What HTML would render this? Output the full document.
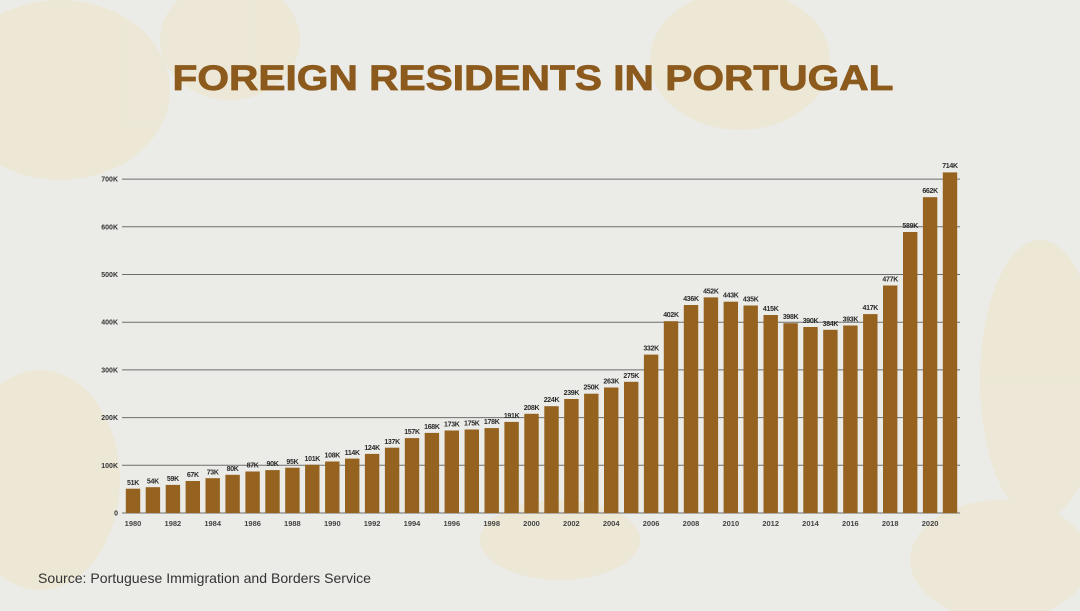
<!DOCTYPE html>
<html><head><meta charset="utf-8"><style>
body{margin:0;width:1080px;height:611px;overflow:hidden;background:#ebebe8;}
svg{display:block}
</style></head><body>
<svg width="1080" height="611" viewBox="0 0 1080 611" xmlns="http://www.w3.org/2000/svg" font-family="Liberation Sans, sans-serif">
<rect width="1080" height="611" fill="#ebebe8"/>
<g fill="#efe4c2" opacity="0.45">
<ellipse cx="60" cy="90" rx="110" ry="90"/>
<ellipse cx="230" cy="40" rx="70" ry="60"/>
<ellipse cx="40" cy="480" rx="80" ry="110"/>
<ellipse cx="740" cy="60" rx="90" ry="70"/>
<ellipse cx="1040" cy="380" rx="60" ry="140"/>
<ellipse cx="1000" cy="560" rx="90" ry="60"/>
<ellipse cx="560" cy="540" rx="80" ry="40"/>
</g>
<text x="533" y="90" text-anchor="middle" font-size="35" font-weight="bold" fill="#8b5a1c" stroke="#8b5a1c" stroke-width="0.8" textLength="721" lengthAdjust="spacingAndGlyphs">FOREIGN RESIDENTS IN PORTUGAL</text>
<g stroke="#6e6e6e" stroke-width="1">
<line x1="122" y1="513" x2="960" y2="513"/>
<line x1="122" y1="465.3" x2="960" y2="465.3"/>
<line x1="122" y1="417.6" x2="960" y2="417.6"/>
<line x1="122" y1="369.9" x2="960" y2="369.9"/>
<line x1="122" y1="322.2" x2="960" y2="322.2"/>
<line x1="122" y1="274.5" x2="960" y2="274.5"/>
<line x1="122" y1="226.8" x2="960" y2="226.8"/>
<line x1="122" y1="179.1" x2="960" y2="179.1"/>
</g>
<g font-size="7" font-weight="bold" fill="#333" text-anchor="end">
<text x="118" y="515.5">0</text>
<text x="118" y="467.8">100K</text>
<text x="118" y="420.1">200K</text>
<text x="118" y="372.4">300K</text>
<text x="118" y="324.7">400K</text>
<text x="118" y="277">500K</text>
<text x="118" y="229.3">600K</text>
<text x="118" y="181.6">700K</text>
</g>
<g fill="#95621f">
<rect x="125.8" y="488.7" width="14.4" height="24.3"/>
<rect x="145.7" y="487.2" width="14.4" height="25.8"/>
<rect x="165.7" y="484.9" width="14.4" height="28.1"/>
<rect x="185.6" y="481.0" width="14.4" height="32.0"/>
<rect x="205.5" y="478.2" width="14.4" height="34.8"/>
<rect x="225.4" y="474.8" width="14.4" height="38.2"/>
<rect x="245.4" y="471.5" width="14.4" height="41.5"/>
<rect x="265.3" y="470.1" width="14.4" height="42.9"/>
<rect x="285.2" y="467.7" width="14.4" height="45.3"/>
<rect x="305.1" y="464.8" width="14.4" height="48.2"/>
<rect x="325.1" y="461.5" width="14.4" height="51.5"/>
<rect x="345.0" y="458.6" width="14.4" height="54.4"/>
<rect x="364.9" y="453.9" width="14.4" height="59.1"/>
<rect x="384.9" y="447.7" width="14.4" height="65.3"/>
<rect x="404.8" y="438.1" width="14.4" height="74.9"/>
<rect x="424.7" y="432.9" width="14.4" height="80.1"/>
<rect x="444.6" y="430.5" width="14.4" height="82.5"/>
<rect x="464.6" y="429.5" width="14.4" height="83.5"/>
<rect x="484.5" y="428.1" width="14.4" height="84.9"/>
<rect x="504.4" y="421.9" width="14.4" height="91.1"/>
<rect x="524.3" y="413.8" width="14.4" height="99.2"/>
<rect x="544.3" y="406.2" width="14.4" height="106.8"/>
<rect x="564.2" y="399.0" width="14.4" height="114.0"/>
<rect x="584.1" y="393.7" width="14.4" height="119.3"/>
<rect x="604.0" y="387.5" width="14.4" height="125.5"/>
<rect x="624.0" y="381.8" width="14.4" height="131.2"/>
<rect x="643.9" y="354.6" width="14.4" height="158.4"/>
<rect x="663.8" y="321.2" width="14.4" height="191.8"/>
<rect x="683.8" y="305.0" width="14.4" height="208.0"/>
<rect x="703.7" y="297.4" width="14.4" height="215.6"/>
<rect x="723.6" y="301.7" width="14.4" height="211.3"/>
<rect x="743.5" y="305.5" width="14.4" height="207.5"/>
<rect x="763.5" y="315.0" width="14.4" height="198.0"/>
<rect x="783.4" y="323.2" width="14.4" height="189.8"/>
<rect x="803.3" y="327.0" width="14.4" height="186.0"/>
<rect x="823.2" y="329.8" width="14.4" height="183.2"/>
<rect x="843.2" y="325.5" width="14.4" height="187.5"/>
<rect x="863.1" y="314.1" width="14.4" height="198.9"/>
<rect x="883.0" y="285.5" width="14.4" height="227.5"/>
<rect x="903.0" y="232.0" width="14.4" height="281.0"/>
<rect x="922.9" y="197.2" width="14.4" height="315.8"/>
<rect x="942.8" y="172.4" width="14.4" height="340.6"/>
</g>
<g font-size="7" font-weight="bold" fill="#2a2a2a" text-anchor="middle" letter-spacing="-0.3">
<text x="133.0" y="485">51K</text>
<text x="152.9" y="483.5">54K</text>
<text x="172.9" y="481">59K</text>
<text x="192.8" y="477">67K</text>
<text x="212.7" y="474.5">73K</text>
<text x="232.6" y="471">80K</text>
<text x="252.6" y="467.5">87K</text>
<text x="272.5" y="466">90K</text>
<text x="292.4" y="464">95K</text>
<text x="312.3" y="461">101K</text>
<text x="332.3" y="457.5">108K</text>
<text x="352.2" y="455">114K</text>
<text x="372.1" y="450">124K</text>
<text x="392.1" y="444">137K</text>
<text x="412.0" y="434">157K</text>
<text x="431.9" y="429">168K</text>
<text x="451.8" y="426.5">173K</text>
<text x="471.8" y="425.5">175K</text>
<text x="491.7" y="424">178K</text>
<text x="511.6" y="418">191K</text>
<text x="531.5" y="410">208K</text>
<text x="551.5" y="402">224K</text>
<text x="571.4" y="395">239K</text>
<text x="591.3" y="389.5">250K</text>
<text x="611.2" y="383.5">263K</text>
<text x="631.2" y="378">275K</text>
<text x="651.1" y="350.5">332K</text>
<text x="671.0" y="317">402K</text>
<text x="691.0" y="301">436K</text>
<text x="710.9" y="293.5">452K</text>
<text x="730.8" y="297.5">443K</text>
<text x="750.7" y="301.5">435K</text>
<text x="770.7" y="311">415K</text>
<text x="790.6" y="319">398K</text>
<text x="810.5" y="323">390K</text>
<text x="830.4" y="326">384K</text>
<text x="850.4" y="321.5">393K</text>
<text x="870.3" y="310">417K</text>
<text x="890.2" y="281.5">477K</text>
<text x="910.2" y="228">589K</text>
<text x="930.1" y="193">662K</text>
<text x="950.0" y="168">714K</text>
</g>
<g font-size="7.5" font-weight="bold" fill="#444" text-anchor="middle">
<text x="133.0" y="526">1980</text>
<text x="172.9" y="526">1982</text>
<text x="212.7" y="526">1984</text>
<text x="252.6" y="526">1986</text>
<text x="292.4" y="526">1988</text>
<text x="332.3" y="526">1990</text>
<text x="372.1" y="526">1992</text>
<text x="412.0" y="526">1994</text>
<text x="451.8" y="526">1996</text>
<text x="491.7" y="526">1998</text>
<text x="531.5" y="526">2000</text>
<text x="571.4" y="526">2002</text>
<text x="611.2" y="526">2004</text>
<text x="651.1" y="526">2006</text>
<text x="691.0" y="526">2008</text>
<text x="730.8" y="526">2010</text>
<text x="770.7" y="526">2012</text>
<text x="810.5" y="526">2014</text>
<text x="850.4" y="526">2016</text>
<text x="890.2" y="526">2018</text>
<text x="930.1" y="526">2020</text>
</g>
<text x="38" y="583" font-size="14" fill="#333" textLength="333" lengthAdjust="spacingAndGlyphs">Source: Portuguese Immigration and Borders Service</text>
</svg>
</body></html>
